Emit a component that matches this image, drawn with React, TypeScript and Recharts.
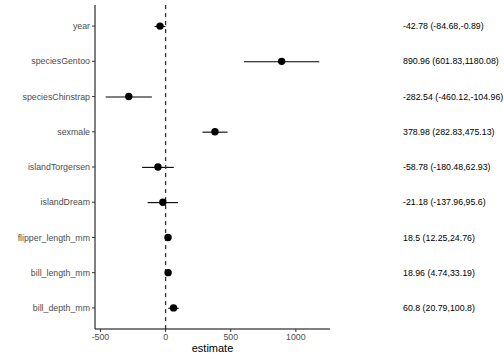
import React from 'react';
import {
  ComposedChart,
  Bar,
  Line,
  XAxis,
  YAxis,
  ReferenceLine,
} from 'recharts';

const terms = [
  'year',
  'speciesGentoo',
  'speciesChinstrap',
  'sexmale',
  'islandTorgersen',
  'islandDream',
  'flipper_length_mm',
  'bill_length_mm',
  'bill_depth_mm',
];
const estimates = [-42.78, 890.96, -282.54, 378.98, -58.78, -21.18, 18.5, 18.96, 60.8];
const lowers = [-84.68, 601.83, -460.12, 282.83, -180.48, -137.96, 12.25, 4.74, 20.79];
const uppers = [-0.89, 1180.08, -104.96, 475.13, 62.93, 95.6, 24.76, 33.19, 100.8];
const labels = [
  '-42.78 (-84.68,-0.89)',
  '890.96 (601.83,1180.08)',
  '-282.54 (-460.12,-104.96)',
  '378.98 (282.83,475.13)',
  '-58.78 (-180.48,62.93)',
  '-21.18 (-137.96,95.6)',
  '18.5 (12.25,24.76)',
  '18.96 (4.74,33.19)',
  '60.8 (20.79,100.8)',
];
const xTicks = [-500, 0, 500, 1000];

const data = terms.map((term, i) => ({
  term,
  label: labels[i],
  estimate: estimates[i],
  ci: [lowers[i], uppers[i]],
}));

const font = 'Liberation Sans, Arial, sans-serif';

// horizontal whisker drawn through the middle of the floating bar
const Whisker = (props: any) => {
  const { x, y, width, height } = props;
  const cy = y + height / 2;
  return <line x1={x} x2={x + width} y1={cy} y2={cy} stroke="#000" strokeWidth={1.1} />;
};

const LeftLabel = (props: any) => {
  const { x, y, payload } = props;
  return (
    <text x={x} y={y} dy="0.35em" textAnchor="end" fontSize={8.8} fill="#4d4d4d" fontFamily={font}>
      {payload.value}
    </text>
  );
};

const RightLabel = (props: any) => {
  const { x, y, payload } = props;
  return (
    <text x={x + 65} y={y} dy="0.35em" textAnchor="start" fontSize={8.8} fill="#000" fontFamily={font}>
      {payload.value}
    </text>
  );
};

export default function App() {
  return (
    <div
      style={{
        position: 'absolute',
        left: 0,
        top: 0,
        width: 504,
        height: 360,
        background: '#fff',
        fontVariantLigatures: 'none',
      }}
    >
      <ComposedChart
        width={504}
        height={360}
        data={data}
        layout="vertical"
        margin={{ top: 5, right: 0, bottom: 0, left: 0 }}
        barCategoryGap={0}
      >
        <XAxis
          type="number"
          domain={[-542, 1262]}
          ticks={xTicks}
          allowDataOverflow
          height={31}
          stroke="#000"
          tickLine={{ stroke: '#333' }}
          tickSize={3}
          tick={{ fill: '#4d4d4d', fontSize: 8.8, fontFamily: font }}
          label={{ value: 'estimate', position: 'insideBottom', offset: 8, fill: '#000', fontSize: 11, fontFamily: font }}
        />
        <YAxis
          yAxisId="left"
          type="category"
          dataKey="term"
          width={95}
          padding={{ top: 3.5, bottom: 3.5 }}
          stroke="#000"
          tickLine={{ stroke: '#333' }}
          tickSize={3}
          tick={<LeftLabel />}
        />
        <YAxis
          yAxisId="right"
          orientation="right"
          type="category"
          dataKey="label"
          width={174}
          padding={{ top: 3.5, bottom: 3.5 }}
          axisLine={false}
          tickLine={false}
          tick={<RightLabel />}
        />
        <ReferenceLine yAxisId="left" x={0} stroke="#333" strokeWidth={1.3} strokeDasharray="4 4" />
        <Bar yAxisId="left" dataKey="ci" barSize={4} shape={<Whisker />} isAnimationActive={false} />
        <Line
          yAxisId="left"
          dataKey="estimate"
          stroke="none"
          dot={{ r: 3.7, fill: '#000', stroke: 'none' }}
          activeDot={false}
          isAnimationActive={false}
        />
      </ComposedChart>
    </div>
  );
}
